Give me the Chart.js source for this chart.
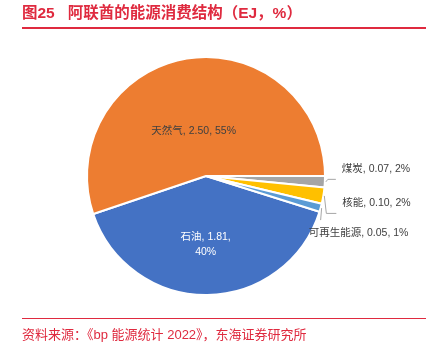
<!DOCTYPE html>
<html>
<head>
<meta charset="utf-8">
<script src="https://cdn.jsdelivr.net/npm/chart.js@4"></script>
<style>
  body { margin: 0; background: #fff; }
  #wrap { position: relative; width: 436px; height: 351px; overflow: hidden; }
  #pie { position: absolute; left: 0; top: 0; }
  .title { position: absolute; left: 22px; top: 3px; font: bold 15.5px "Liberation Sans", "Noto Sans CJK SC", sans-serif; color: #df2a3f; line-height: 20px; white-space: nowrap; }
  .rule { position: absolute; left: 22px; width: 404px; background: #df2a3f; }
  .source { position: absolute; left: 22px; top: 325px; font: 13px "Liberation Sans", "Noto Sans CJK SC", sans-serif; color: #df2a3f; line-height: 20px; white-space: nowrap; }
</style>
</head>
<body>
<div id="wrap">
  <canvas id="pie" width="436" height="351"></canvas>
  <div class="title">图25&nbsp;&nbsp;&nbsp;阿联酋的能源消费结构（EJ，%）</div>
  <div class="rule" style="top:27px;height:2px"></div>
  <div class="rule" style="top:318px;height:1px"></div>
  <div class="source">资料来源：《bp 能源统计 2022》，东海证券研究所</div>
</div>
<script>
// 能源消费 (EJ)
const categories = ['石油', '天然气', '煤炭', '核能', '可再生能源'];
const values = [1.81, 2.50, 0.07, 0.10, 0.05];
const colors = ['#4472c4', '#ed7d31', '#a5a5a5', '#ffc000', '#5b9bd5'];

const total = values.reduce((a, b) => a + b, 0);
const pct = values.map(v => Math.round(v / total * 100) + '%');

// how each label is placed relative to its slice
const labelPlace = [
  { inside: true, f: 0.58, dx: -1, color: '#fff', lines: i => [categories[i] + ', ' + values[i].toFixed(2) + ',', pct[i]] },
  { inside: true, f: 0.38, dx: -5, color: '#404040' },
  { dx: 16, dy: -13, elbow: 10.5 },
  { dx: 18, dy: 7, elbow: 10.5 },
  { dx: -13, dy: 25, elbow: null }
];

const labelFont = '10.5px "Liberation Sans", "Noto Sans CJK SC", sans-serif';

const pieLabels = {
  id: 'pieLabels',
  afterDatasetsDraw(chart) {
    const c = chart.ctx;
    const arcs = chart.getDatasetMeta(0).data;
    c.save();
    c.font = labelFont;
    c.textBaseline = 'middle';
    arcs.forEach((arc, i) => {
      const p = labelPlace[i];
      const mid = (arc.startAngle + arc.endAngle) / 2;
      const r = arc.outerRadius;
      const cos = Math.cos(mid), sin = Math.sin(mid);
      if (p.inside) {
        const lines = p.lines ? p.lines(i) : [categories[i] + ', ' + values[i].toFixed(2) + ', ' + pct[i]];
        const x = arc.x + cos * r * p.f + p.dx;
        const y = arc.y + sin * r * p.f;
        c.fillStyle = p.color;
        c.textAlign = 'center';
        const lh = 15;
        lines.forEach((t, k) => c.fillText(t, x, y + (k - (lines.length - 1) / 2) * lh));
        return;
      }
      const ex = arc.x + cos * (r + 1);
      const ey = arc.y + sin * (r + 1);
      const tx = ex + p.dx;
      const ty = ey + p.dy;
      c.strokeStyle = '#a6a6a6';
      c.lineWidth = 1;
      c.beginPath();
      c.moveTo(ex, ey);
      if (p.elbow !== null) {
        c.lineTo(ex + 2, ty + p.elbow);
        c.lineTo(tx - 6, ty + p.elbow);
      } else {
        c.lineTo(ex - 1, ty - 13);
      }
      c.stroke();
      c.fillStyle = '#404040';
      c.textAlign = 'left';
      c.fillText(categories[i] + ', ' + values[i].toFixed(2) + ', ' + pct[i], tx, ty);
    });
    c.restore();
  }
};

new Chart(document.getElementById('pie'), {
  type: 'pie',
  data: {
    labels: categories,
    datasets: [{
      data: values,
      backgroundColor: colors,
      borderColor: '#fff',
      borderWidth: 2,
      radius: 119
    }]
  },
  options: {
    responsive: false,
    animation: false,
    rotation: 107.5,
    layout: { padding: { left: 60, right: 84, top: 50, bottom: 49 } },
    plugins: { legend: { display: false }, tooltip: { enabled: false } }
  },
  plugins: [pieLabels]
});
</script>
</body>
</html>
